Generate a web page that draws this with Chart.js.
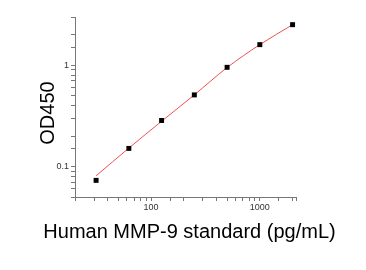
<!DOCTYPE html>
<html>
<head>
<meta charset="utf-8">
<script src="https://cdn.jsdelivr.net/npm/chart.js@4/dist/chart.umd.min.js"></script>
<style>
  html, body { margin: 0; padding: 0; background: #fff; }
  #wrap { width: 366px; height: 270px; }
</style>
</head>
<body>
<div id="wrap"><canvas id="chart" width="366" height="270"></canvas></div>
<script>
const concentrations = [31.25, 62.5, 125, 250, 500, 1000, 2000];
const od450 = [0.073, 0.151, 0.285, 0.51, 0.955, 1.6, 2.52];
const fitOd = [0.081, 0.152, 0.28, 0.51, 0.95, 1.6, 2.52];
const xTickLabels = [100, 1000];
const yTickLabels = [0.1, 1];
const xTitle = 'Human MMP-9 standard (pg/mL)';
const yTitle = 'OD450';

const FONT = '"Liberation Sans", Arial, sans-serif';
const toPoints = (xs, ys) => xs.map((x, i) => ({ x: x, y: ys[i] }));

// scale titles drawn by hand so Chart.js does not squeeze them to the axis width
const axisTitles = {
  id: 'axisTitles',
  afterDraw(chart) {
    const { ctx, chartArea } = chart;
    ctx.save();
    ctx.fillStyle = '#000';
    ctx.font = '20px ' + FONT;
    ctx.textAlign = 'center';
    ctx.textBaseline = 'alphabetic';
    ctx.fillText(xTitle, (chartArea.left + chartArea.right) / 2 + 4, chartArea.bottom + 41);
    ctx.translate(chartArea.left - 21, (chartArea.top + chartArea.bottom) / 2 + 6);
    ctx.rotate(-Math.PI / 2);
    ctx.fillText(yTitle, 0, 0);
    ctx.restore();
  }
};

new Chart(document.getElementById('chart').getContext('2d'), {
  type: 'scatter',
  data: {
    datasets: [
      {
        data: toPoints(concentrations, fitOd),
        showLine: true,
        borderColor: '#f05050',
        borderWidth: 1,
        pointRadius: 0,
        cubicInterpolationMode: 'monotone',
        order: 2
      },
      {
        data: toPoints(concentrations, od450),
        pointStyle: 'rect',
        pointRadius: 3.5,
        backgroundColor: '#000',
        borderColor: '#000',
        borderWidth: 0,
        order: 1
      }
    ]
  },
  options: {
    responsive: false,
    animation: false,
    layout: { padding: { left: 0, right: 70, top: 17, bottom: 0 } },
    plugins: { legend: { display: false }, tooltip: { enabled: false } },
    scales: {
      x: {
        type: 'logarithmic',
        min: 20,
        max: 2150,
        border: { color: '#777', width: 1 },
        grid: { drawOnChartArea: false, tickLength: 4, color: '#777' },
        ticks: {
          autoSkip: false,
          maxRotation: 0,
          padding: 1,
          color: '#333',
          font: { family: FONT, size: 9 },
          callback: v => xTickLabels.includes(v) ? String(v) : ''
        },
        afterFit: s => { s.height = 73; }
      },
      y: {
        type: 'logarithmic',
        min: 0.05,
        max: 3,
        border: { color: '#777', width: 1 },
        grid: { drawOnChartArea: false, tickLength: 4, color: '#777' },
        ticks: {
          autoSkip: false,
          padding: 2,
          color: '#333',
          font: { family: FONT, size: 9 },
          callback: v => yTickLabels.includes(v) ? String(v) : ''
        },
        afterFit: s => { s.width = 75; }
      }
    }
  },
  plugins: [axisTitles]
});
</script>
</body>
</html>
